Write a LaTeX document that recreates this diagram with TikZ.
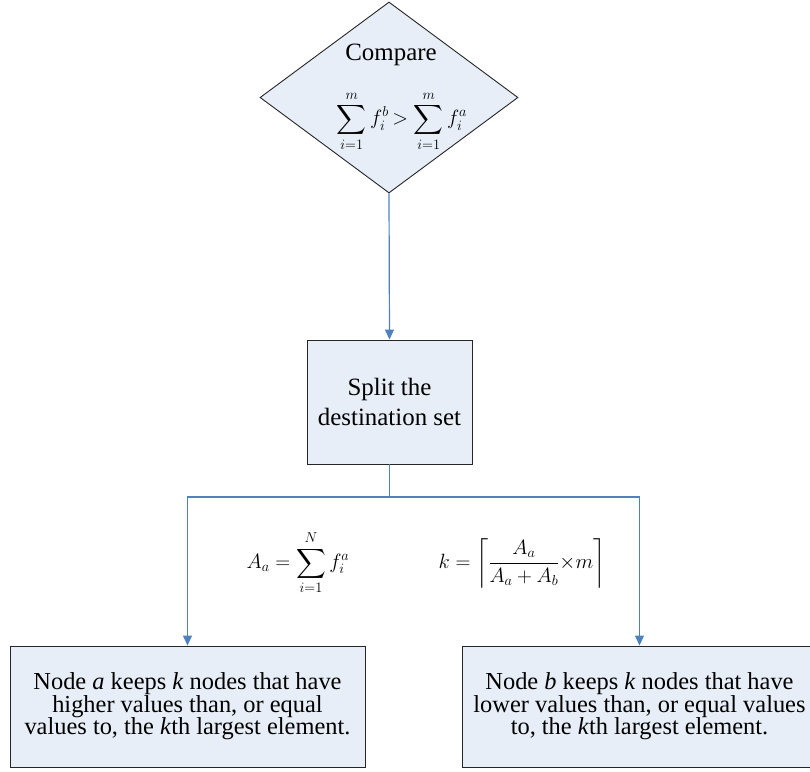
\documentclass[tikz,border=0pt]{standalone}
\usepackage{amsmath}
\usepackage{fontspec}
\setmainfont{Liberation Serif}
\usetikzlibrary{arrows.meta,shapes.geometric}
\definecolor{boxfill}{HTML}{E8EEF7}
\definecolor{linkblue}{HTML}{4F81BD}

\begin{document}
\begin{tikzpicture}[x=1bp,y=-1bp,
  box/.style={draw=black!85,fill=boxfill,line width=0.9bp,inner sep=0pt},
  txt/.style={align=center,inner sep=0pt,font=\fontsize{25}{30}\selectfont},
  small/.style={align=center,inner sep=0pt,font=\fontsize{24.5}{22.5}\selectfont},
  eq/.style={inner sep=0pt,font=\fontsize{19.5}{23}\selectfont},
  link/.style={draw=linkblue,line width=1.2bp,-{Triangle[length=10bp,width=9bp]}}]
\useasboundingbox (0,0) rectangle (810,772);
\node[box,diamond,minimum width=258bp,minimum height=191bp,aspect=1.35] (cmp) at (389,97.5) {};
\node[txt] (cmptxt) at (391,55) {Compare};
\node[eq] (cmpeq) at (402,121) {$\displaystyle\sum_{i=1}^{m} f_i^b \mkern-2mu> \sum_{i=1}^{m} f_i^a$};
\node[box,txt,minimum width=165bp,minimum height=124bp] (split) at (389.5,402) {Split the\\destination set};
\coordinate (fork) at (389.5,497);
\node[eq] (sumA) at (298,563) {$\displaystyle A_a = \sum_{i=1}^{N} f_i^a$};
\node[eq] (kval) at (522,563) {$\displaystyle k = \left\lceil \frac{A_a}{A_a + A_b}{\times}m \right\rceil$};
\node[box,small,minimum width=355bp,minimum height=121bp] (nodea) at (187.5,706.5) {Node \textit{a} keeps \textit{k} nodes that have\\higher values than, or equal\\values to, the \textit{k}th largest element.};
\node[box,small,minimum width=354bp,minimum height=121bp] (nodeb) at (639.5,706.5) {Node \textit{b} keeps \textit{k} nodes that have\\lower values than, or equal values\\to, the \textit{k}th largest element.};
\draw[link] (cmp.south) -- (split.north);
\draw[link] (split.south) -- (fork) -| (nodea.north);
\draw[link] (fork) -| (nodeb.north);
\end{tikzpicture}
\end{document}
